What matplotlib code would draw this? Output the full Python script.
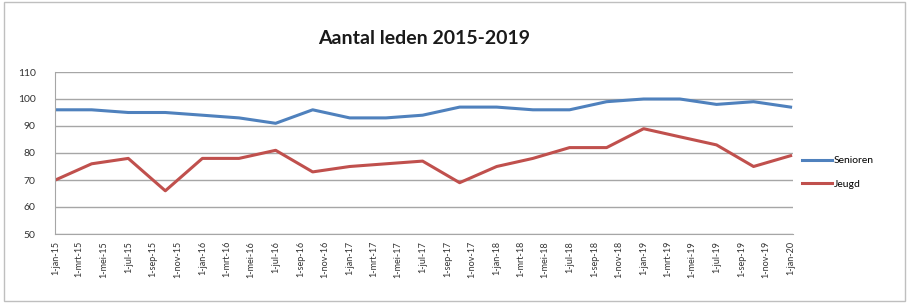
import datetime as dt

import matplotlib
matplotlib.use("Agg")
import matplotlib.pyplot as plt
import matplotlib.dates as mdates
from matplotlib.patches import Rectangle


# kwartaalcijfers, 1-jan-15 t/m 1-jan-20
dates = [dt.date(2015 + (q * 3) // 12, (q * 3) % 12 + 1, 1) for q in range(21)]
senioren = [96, 96, 95, 95, 94, 93, 91, 96, 93, 93, 94, 97, 97, 96, 96, 99, 100, 100, 98, 99, 97]
jeugd = [70, 76, 78, 66, 78, 78, 81, 73, 75, 76, 77, 69, 75, 78, 82, 82, 89, 86, 83, 75, 79]

month_names = ['jan', 'feb', 'mrt', 'apr', 'mei', 'jun', 'jul', 'aug', 'sep', 'okt', 'nov', 'dec']
tick_dates = [dt.date(2015 + m // 12, m % 12 + 1, 1) for m in range(0, 61, 2)]
tick_labels = [f'1-{month_names[d.month - 1]}-{d.year % 100:02d}' for d in tick_dates]
y_ticks = [50, 60, 70, 80, 90, 100, 110]

plt.rcParams['font.family'] = ['Lato', 'DejaVu Sans']

fig = plt.figure(figsize=(9.09, 3.04), dpi=100)
fig.patches.append(Rectangle((0.004, 0.01), 0.992, 0.985, transform=fig.transFigure,
                             fill=False, edgecolor='#bfbfbf', linewidth=1))

ax = fig.add_axes([55 / 909, 1 - 234 / 304, (793 - 55) / 909, (234 - 72) / 304])

ax.plot(dates, senioren, color='#4F81BD', linewidth=2.2, label='Senioren')
ax.plot(dates, jeugd, color='#C0504D', linewidth=2.2, label='Jeugd')

ax.set_ylim(50, 110)
ax.set_yticks(y_ticks)
ax.set_xlim(mdates.date2num(dt.date(2015, 1, 1)) - 1, mdates.date2num(dt.date(2020, 1, 1)) + 6)
ax.set_xticks(mdates.date2num(tick_dates))
ax.set_xticklabels(tick_labels, rotation=90, fontsize=6.5, color='#333333')
ax.tick_params(axis='y', labelsize=7.5, colors='#333333', length=0, pad=14)
ax.tick_params(axis='x', length=0, pad=5)

ax.grid(axis='y', color='#a6a6a6', linewidth=1)
ax.set_axisbelow(True)
for side in ['top', 'right']:
    ax.spines[side].set_visible(False)
ax.spines['left'].set_color('#a6a6a6')
ax.spines['bottom'].set_color('#a6a6a6')

ax.set_title('Aantal leden 2015-2019', fontsize=14, fontweight='bold', color='#1a1a1a', pad=20)

ax.legend(loc='center left', bbox_to_anchor=(1.0, 0.38), frameon=False, fontsize=7.5,
          handlelength=2.8, labelspacing=1.4, handletextpad=0.2)

fig.savefig('out.png', dpi=100)
